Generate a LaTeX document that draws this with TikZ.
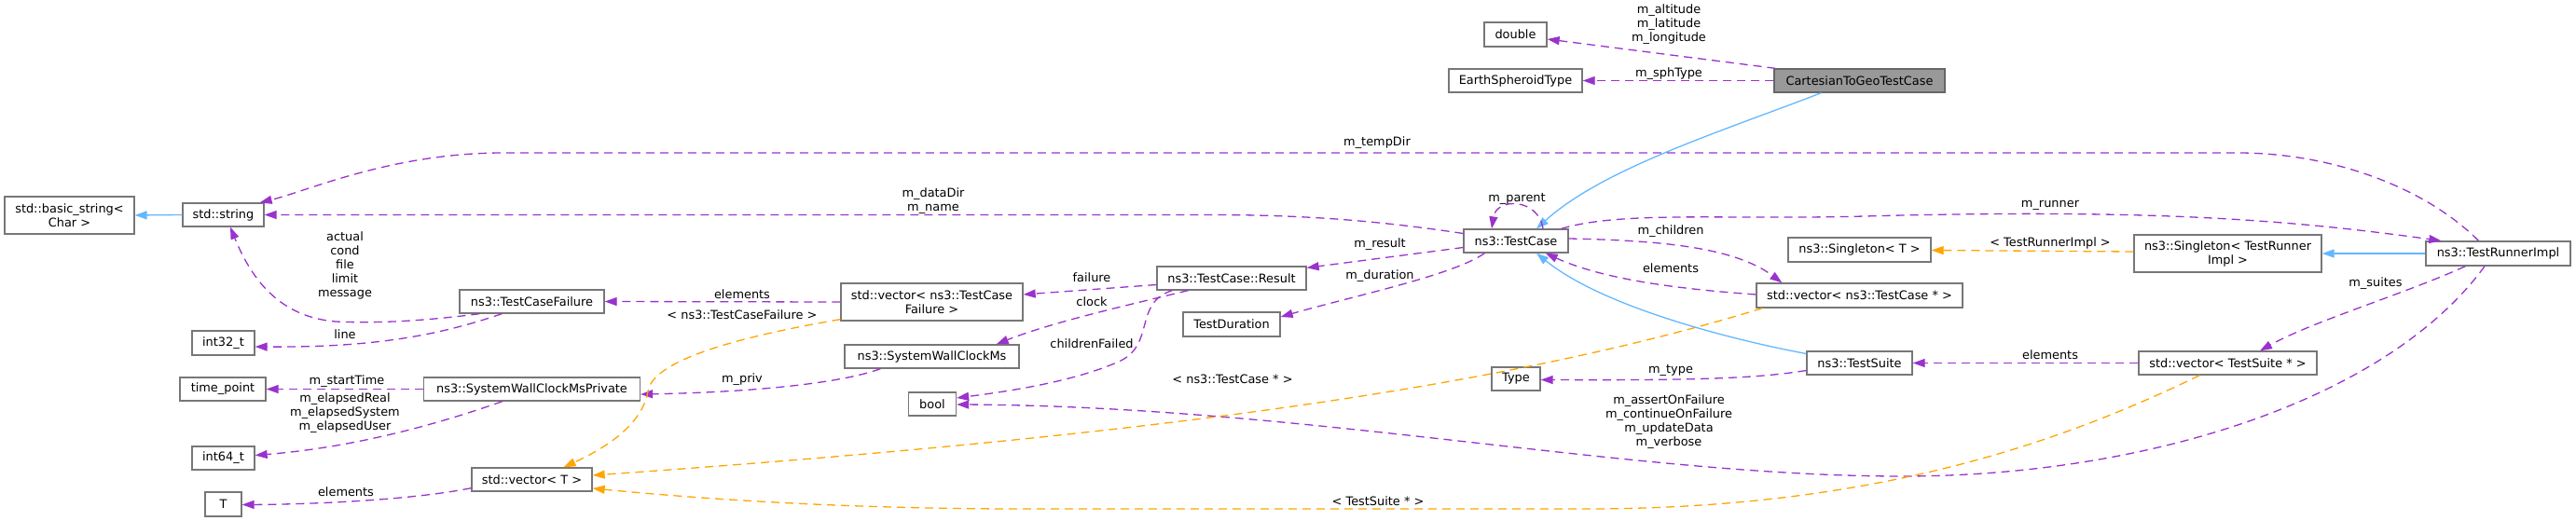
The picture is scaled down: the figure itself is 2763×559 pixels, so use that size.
\documentclass[tikz,border=0pt]{standalone}
\usepackage{fontspec}
\setmainfont{DejaVu Sans}
\usetikzlibrary{arrows.meta,calc}
\definecolor{memb}{HTML}{9A32CD}
\definecolor{tmpl}{HTML}{FFA500}
\definecolor{inh}{HTML}{63B8FF}
\definecolor{boxgray}{HTML}{777777}
\definecolor{rootfill}{HTML}{999999}
\begin{document}
\begin{tikzpicture}[x=1pt,y=-1pt,
  font=\fontsize{12.9pt}{15pt}\selectfont,
  cls/.style={draw=boxgray, fill=white, line width=1.3pt, inner sep=0pt, minimum height=25pt, align=center},
  rootcls/.style={cls, fill=rootfill, draw=black!60},
  lbl/.style={inner sep=0pt, align=center},
  membedge/.style={draw=memb, line width=1.3pt, dash pattern=on 9pt off 6pt, -{Triangle[length=13pt,width=9pt]}},
  tmpledge/.style={draw=tmpl, line width=1.3pt, dash pattern=on 9pt off 6pt, -{Triangle[length=13pt,width=9pt]}},
  inhedge/.style={draw=inh, line width=1.3pt, -{Triangle[length=13pt,width=9pt]}}
]
\useasboundingbox (0,0) rectangle (2763,559);
% nodes
\node[cls, minimum width=139pt, minimum height=40pt] (basic) at (74.5,231) {std::basic\_string<\\Char >};
\node[cls, minimum width=87pt] (string) at (239.5,230.5) {std::string};
\node[cls, minimum width=67pt, minimum height=26pt] (int32) at (239.5,368) {int32\_t};
\node[cls, minimum width=92pt] (timepoint) at (239,417.5) {time\_point};
\node[cls, minimum width=67pt] (int64) at (239.5,491.5) {int64\_t};
\node[cls, minimum width=39pt, minimum height=26pt] (T) at (239.5,541) {T};
\node[cls, minimum width=155pt] (tcf) at (570.5,323.5) {ns3::TestCaseFailure};
\node[cls, minimum width=232pt] (swcmp) at (570.5,417.5) {ns3::SystemWallClockMsPrivate};
\node[cls, minimum width=129pt] (vecT) at (570.5,514.5) {std::vector< T >};
\node[cls, minimum width=195pt, minimum height=40pt] (vtcf) at (999.5,324) {std::vector< ns3::TestCase\\Failure >};
\node[cls, minimum width=187pt] (swcm) at (999.5,382.5) {ns3::SystemWallClockMs};
\node[cls, minimum width=51pt] (bool) at (1000,433.5) {bool};
\node[cls, minimum width=160pt] (result) at (1321,298.5) {ns3::TestCase::Result};
\node[cls, minimum width=104pt, minimum height=26pt] (tdur) at (1321,348) {TestDuration};
\node[cls, minimum width=112pt] (tc) at (1626,258.5) {ns3::TestCase};
\node[cls, minimum width=52pt] (type) at (1626,406.5) {Type};
\node[cls, minimum width=67pt, minimum height=26pt] (double) at (1625.5,37) {double};
\node[cls, minimum width=143pt] (earth) at (1625.5,86.5) {EarthSpheroidType};
\node[rootcls, minimum width=183pt] (cart) at (1994.5,86.5) {CartesianToGeoTestCase};
\node[cls, minimum width=221pt, minimum height=26pt] (vtc) at (1994.5,317) {std::vector< ns3::TestCase * >};
\node[cls, minimum width=153pt, minimum height=26pt] (singT) at (1994.5,268) {ns3::Singleton< T >};
\node[cls, minimum width=113pt] (tsuite) at (1994.5,389.5) {ns3::TestSuite};
\node[cls, minimum width=201pt, minimum height=40pt] (singR) at (2389.5,272) {ns3::Singleton< TestRunner\\Impl >};
\node[cls, minimum width=191pt] (vts) at (2389.5,389.5) {std::vector< TestSuite * >};
\node[cls, minimum width=155pt, minimum height=26pt] (runner) at (2679.5,272) {ns3::TestRunnerImpl};

% edges
\draw[membedge] ($(cart.north west)+(2,0)$) -- ($(double.east)+(0,5)$);
\draw[membedge] (cart.west) -- (earth.east);
\draw[inhedge] ($(cart.south west)+(51,0)$) .. controls (1850,140) and (1720,180) .. ($(tc.north)+(22,0)$);
\draw[inhedge] ($(tsuite.west)+(0,-10)$) .. controls (1860,365) and (1720,330) .. ($(tc.south)+(22,0)$);
\draw[membedge] ($(tc.north)+(29,0)$) .. controls (1650,212) and (1605,212) .. ($(tc.north)+(-26,0)$);
\draw[membedge] ($(tc.west)+(0,-8)$) .. controls (1480,237) and (1400,230.5) .. (1300,230.5) -- (string.east);
\draw[membedge] ($(tc.west)+(0,7)$) -- ($(result.north east)+(0,2)$);
\draw[membedge] ($(tc.south west)+(23,0)$) .. controls (1560,295) and (1450,318) .. ($(tdur.east)+(0,-8)$);
\draw[membedge] ($(vtc.west)+(0,-1)$) .. controls (1800,310) and (1720,300) .. ($(tc.south east)+(-25,0)$);
\draw[membedge] ($(tc.east)+(0,-2.5)$) .. controls (1780,258) and (1860,265) .. ($(vtc.north west)+(28,0)$);
\draw[membedge] ($(tc.north east)+(-8,0)$) .. controls (1740,226) and (1850,236) .. (2000,232) .. controls (2300,224) and (2450,235) .. ($(runner.north west)+(17,0)$);
\draw[membedge] ($(runner.north)+(-21,0)$) .. controls (2600,200) and (2500,164) .. (2400,164) -- (540,164) .. controls (420,164) and (330,205) .. ($(string.north east)+(-5,0)$);
\draw[tmpledge] ($(singR.west)+(0,-2)$) -- ($(singT.east)+(0,0.5)$);
\draw[inhedge] (runner.west) -- (singR.east);
\draw[membedge] ($(runner.south west)+(43,0)$) .. controls (2580,315) and (2480,345) .. ($(vts.north)+(34.5,0)$);
\draw[membedge] (vts.west) -- (tsuite.east);
\draw[membedge] ($(tsuite.west)+(0,8)$) .. controls (1880,407) and (1800,408) .. ($(type.east)+(0,1)$);
\draw[membedge] ($(runner.south)+(-14.5,0)$) .. controls (2560,430) and (2300,511) .. (2040,511) .. controls (1750,511) and (1400,436) .. ($(bool.east)+(0,0.5)$);
\draw[membedge] ($(result.south west)+(17,0)$) .. controls (1215,325) and (1240,370) .. (1200,388) .. controls (1150,410) and (1080,420) .. ($(bool.east)+(0,-6.5)$);
\draw[membedge] ($(result.west)+(0,7)$) -- ($(vtcf.east)+(0,-8)$);
\draw[membedge] ($(result.south west)+(34,0)$) .. controls (1220,325) and (1130,345) .. ($(swcm.north east)+(-25,0)$);
\draw[membedge] ($(swcm.south west)+(39,0)$) .. controls (900,412) and (800,421) .. ($(swcmp.east)+(0,5.5)$);
\draw[membedge] (swcmp.west) -- (timepoint.east);
\draw[membedge] ($(swcmp.south west)+(85,0)$) .. controls (470,455) and (380,480) .. ($(int64.east)+(0,-3)$);
\draw[membedge] (vtcf.west) -- (tcf.east);
\draw[tmpledge] ($(vtcf.south west)+(0,-2)$) .. controls (800,360) and (700,385) .. (695,420) .. controls (688,460) and (640,485) .. ($(vecT.north)+(34,0)$);
\draw[tmpledge] ($(vtc.south west)+(7,0)$) .. controls (1600,420) and (1200,470) .. ($(vecT.east)+(0,-4.5)$);
\draw[tmpledge] ($(vts.south west)+(66,0)$) .. controls (2200,480) and (2000,546) .. (1700,546) -- (1100,546) .. controls (900,546) and (750,535) .. ($(vecT.east)+(0,9.5)$);
\draw[membedge] ($(vecT.south west)+(0,-4)$) .. controls (450,535) and (350,541) .. ($(T.east)+(0,0.5)$);
\draw[membedge] ($(tcf.south west)+(22,0)$) .. controls (450,345) and (400,347) .. (360,345) .. controls (300,340) and (270,300) .. ($(string.south)+(7.5,0)$);
\draw[membedge] ($(tcf.south west)+(46,0)$) .. controls (470,360) and (400,373) .. ($(int32.east)+(0,4)$);
\draw[inhedge] (string.west) -- (basic.east);

% labels
\node[lbl] (l1) at (1790,26.5) {m\_altitude\\m\_latitude\\m\_longitude};
\node[lbl] (l2) at (1790,79) {m\_sphType};
\node[lbl] (l3) at (1477,153) {m\_tempDir};
\node[lbl] (l4) at (1001,215.5) {m\_dataDir\\m\_name};
\node[lbl] (l5) at (1627,213) {m\_parent};
\node[lbl] (l6) at (1480,262) {m\_result};
\node[lbl] (l7) at (1480,296) {m\_duration};
\node[lbl] (l8) at (1792,248) {m\_children};
\node[lbl] (l9) at (1792,288) {elements};
\node[lbl] (l10) at (2199,220) {m\_runner};
\node[lbl] (l11) at (2199,261) {< TestRunnerImpl >};
\node[lbl] (l12) at (2548,304) {m\_suites};
\node[lbl] (l13) at (2199,381) {elements};
\node[lbl] (l14) at (1792,397) {m\_type};
\node[lbl] (l15) at (1790,453) {m\_assertOnFailure\\m\_continueOnFailure\\m\_updateData\\m\_verbose};
\node[lbl] (l16) at (1171,369) {childrenFailed};
\node[lbl] (l17) at (1171,298) {failure};
\node[lbl] (l18) at (1171,324) {clock};
\node[lbl] (l19) at (1322,407) {< ns3::TestCase * >};
\node[lbl] (l20) at (1478,538) {< TestSuite * >};
\node[lbl] (l21) at (796,316) {elements};
\node[lbl] (l22) at (796,338) {< ns3::TestCaseFailure >};
\node[lbl] (l23) at (796,407) {m\_priv};
\node[lbl] (l24) at (372,409) {m\_startTime};
\node[lbl] (l25) at (370,443) {m\_elapsedReal\\m\_elapsedSystem\\m\_elapsedUser};
\node[lbl] (l26) at (370,285) {actual\\cond\\file\\limit\\message};
\node[lbl] (l27) at (370,359) {line};
\node[lbl] (l28) at (371,528) {elements};
\end{tikzpicture}
\end{document}
